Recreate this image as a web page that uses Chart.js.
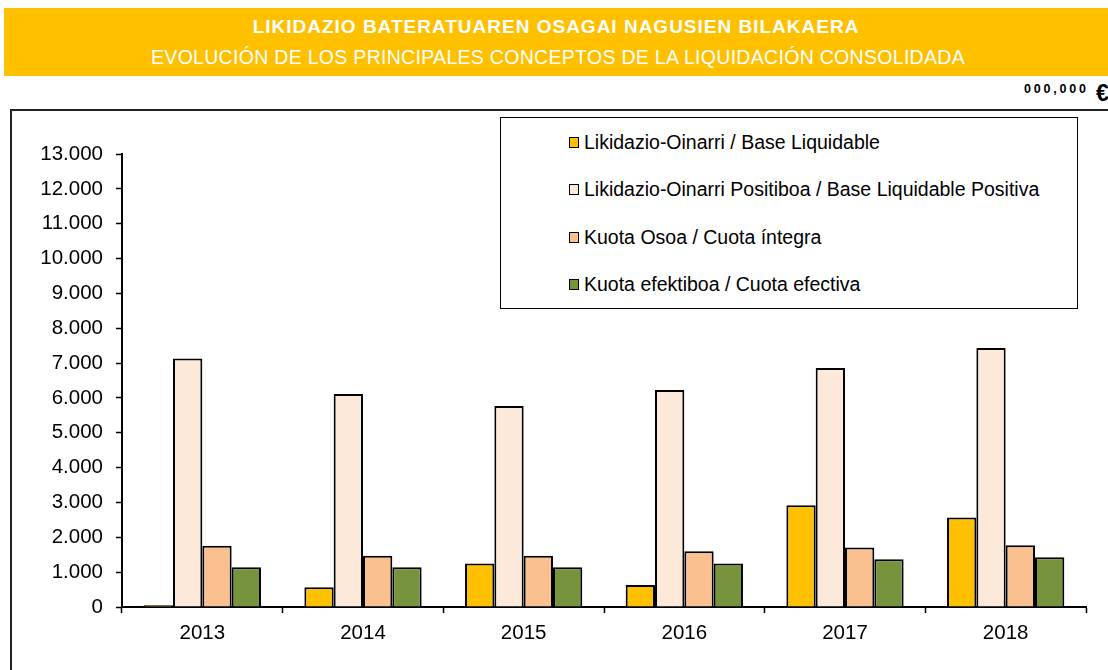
<!DOCTYPE html>
<html><head><meta charset="utf-8">
<script src="https://cdn.jsdelivr.net/npm/chart.js@4/dist/chart.umd.min.js"></script>
<style>
html,body{margin:0;padding:0;width:1108px;height:670px;overflow:hidden;background:#fff;font-family:"Liberation Sans",Arial,sans-serif;}
#band{position:absolute;left:4px;top:8px;width:1104px;height:68px;background:#FFC000;color:#fff;text-align:center;}
#t1{position:absolute;left:0;right:0;top:8px;font-weight:bold;font-size:19px;letter-spacing:1px;line-height:22px;}
#t2{position:absolute;left:4px;right:0;top:38px;font-size:19.5px;letter-spacing:0.3px;line-height:22px;}
#unitn{position:absolute;left:1024px;top:82px;font-weight:bold;font-size:12.5px;letter-spacing:2.8px;color:#000;line-height:14px;white-space:nowrap;}
#unite{position:absolute;left:1096px;top:80px;font-weight:bold;font-size:23px;color:#000;line-height:26px;white-space:nowrap;}
#frame{position:absolute;left:10px;top:109px;width:1200px;height:700px;border-left:2px solid #222;border-top:2px solid #222;}
#wrap{position:absolute;left:0;top:0;width:1108px;height:670px;}
#legend{position:absolute;left:500px;top:117px;width:576px;height:190px;border:1px solid #000;background:#fff;font-size:19.5px;color:#000;}
.li{position:absolute;left:68px;white-space:nowrap;line-height:22px;}
.sw{display:inline-block;width:8px;height:9px;border:1.5px solid #000;margin-right:5px;vertical-align:1px;}
</style></head>
<body>
<div id="band"><div id="t1">LIKIDAZIO BATERATUAREN OSAGAI NAGUSIEN BILAKAERA</div><div id="t2">EVOLUCIÓN DE LOS PRINCIPALES CONCEPTOS DE LA LIQUIDACIÓN CONSOLIDADA</div></div>
<div id="unitn">000,000</div><div id="unite">€</div>
<div id="frame"></div>
<div id="wrap"><canvas id="c" width="1108" height="670"></canvas></div>
<div id="legend"></div>
<script>
const categories = ['2013','2014','2015','2016','2017','2018'];
const seriesNames = ['Likidazio-Oinarri / Base Liquidable','Likidazio-Oinarri Positiboa / Base Liquidable Positiva','Kuota Osoa / Cuota íntegra','Kuota efektiboa / Cuota efectiva'];
const baseLiquidable = [50, 565, 1250, 630, 2920, 2570];
const basePositiva = [7130, 6110, 5770, 6230, 6860, 7430];
const cuotaIntegra = [1760, 1470, 1470, 1600, 1710, 1770];
const cuotaEfectiva = [1140, 1140, 1140, 1250, 1370, 1430];
const colors = ['#FFC000','#FDE9D9','#FAC090','#77933C'];
const yTicks = [0,1000,2000,3000,4000,5000,6000,7000,8000,9000,10000,11000,12000,13000];

const allSeries = [baseLiquidable, basePositiva, cuotaIntegra, cuotaEfectiva];
const fmt = v => String(v).replace(/\B(?=(\d{3})+(?!\d))/g, '.');

new Chart(document.getElementById('c'), {
  type: 'bar',
  data: {
    labels: categories,
    datasets: allSeries.map((d,i)=>({label: seriesNames[i], data: d, backgroundColor: colors[i], borderColor:'#000', borderWidth:2, categoryPercentage:0.73, barPercentage:1.0}))
  },
  options: {
    responsive:false, animation:false,
    layout:{padding:{left:0,right:22,top:154,bottom:23}},
    plugins:{legend:{display:false}, tooltip:{enabled:false}},
    scales:{
      x:{
        grid:{display:true, drawOnChartArea:false, color:'#000', tickLength:6, tickWidth:1.5, offset:true},
        border:{color:'#000', width:2},
        ticks:{color:'#000', font:{family:'"Liberation Sans", Arial, sans-serif', size:20.5}, padding:8},
        afterFit: s => { s.height = 40; }
      },
      y:{
        min:0, max:13000,
        afterBuildTicks: s => { s.ticks = yTicks.map(v=>({value:v})); },
        grid:{display:true, drawOnChartArea:false, color:'#000', tickLength:6, tickWidth:1.5},
        border:{color:'#000', width:2},
        ticks:{color:'#000', font:{family:'"Liberation Sans", Arial, sans-serif', size:20.5}, padding:13, callback: v => fmt(v)},
        afterFit: s => { s.width = 122; }
      }
    }
  }
});

const lg = document.getElementById('legend');
const tops = [13, 60, 108, 155];
seriesNames.forEach((n,i)=>{
  const d = document.createElement('div');
  d.className='li'; d.style.top = tops[i]+'px';
  d.innerHTML = '<span class="sw" style="background:'+colors[i]+'"></span>'+n;
  lg.appendChild(d);
});
</script>
</body></html>
